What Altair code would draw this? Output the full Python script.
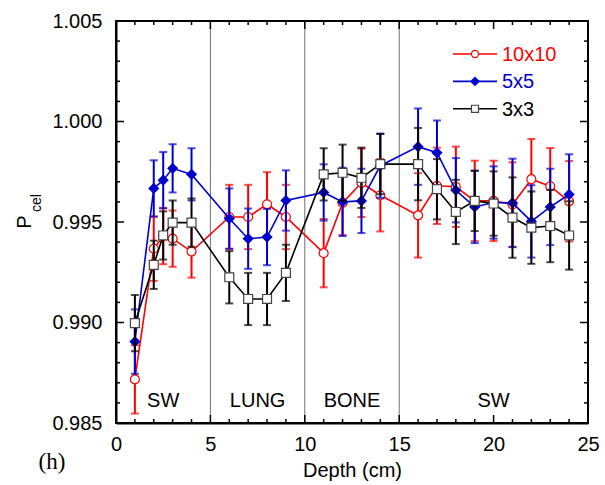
import altair as alt
import pandas as pd

# ---------------- data ----------------
depth = [1, 2, 2.5, 3, 4, 6, 7, 8, 9, 11, 12, 13, 14, 16, 17, 18, 19, 20, 21, 22, 23, 24]

p10 = [0.98717, 0.99367, 0.99430, 0.99417, 0.99353, 0.99525, 0.99525, 0.99588, 0.99525,
       0.99345, 0.99595, 0.99695, 0.99633, 0.99533, 0.99680, 0.99675, 0.99605, 0.99605,
       0.99587, 0.99713, 0.99678, 0.99603]
e10 = [0.0017, 0.0016, 0.0014, 0.0014, 0.0013, 0.0016, 0.0016, 0.0016, 0.0016,
       0.0017, 0.0016, 0.0017, 0.0018, 0.0021, 0.0019, 0.0020, 0.0020, 0.0020,
       0.0021, 0.0020, 0.0019, 0.0020]

p5 = [0.98905, 0.99667, 0.99708, 0.99767, 0.99737, 0.99517, 0.99417, 0.99425, 0.99607,
      0.99647, 0.99600, 0.99605, 0.99780, 0.99875, 0.99845, 0.99658, 0.99575, 0.99597,
      0.99595, 0.99503, 0.99575, 0.99637]
e5 = [0.0016, 0.0014, 0.0014, 0.0012, 0.0013, 0.0015, 0.0015, 0.0014, 0.0015,
      0.0014, 0.0017, 0.0016, 0.0016, 0.0019, 0.0016, 0.0016, 0.0018, 0.0018,
      0.0022, 0.0018, 0.0019, 0.0020]

p3 = [0.98997, 0.99287, 0.99433, 0.99497, 0.99497, 0.99225, 0.99117, 0.99117, 0.99247,
      0.99737, 0.99745, 0.99720, 0.99788, 0.99788, 0.99663, 0.99550, 0.99605, 0.99592,
      0.99522, 0.99472, 0.99480, 0.99433]
e3 = [0.0014, 0.0012, 0.0012, 0.0011, 0.0012, 0.0013, 0.0013, 0.0013, 0.0014,
      0.0013, 0.0014, 0.0015, 0.0015, 0.0018, 0.0015, 0.0016, 0.0015, 0.0016,
      0.0020, 0.0018, 0.0018, 0.0017]

series_names = ["10x10", "5x5", "3x3"]
series_vals = [p10, p5, p3]
series_errs = [e10, e5, e3]
series_colors = ["#ff0000", "#0000cd", "#000000"]
series_shapes = ["circle", "diamond", "square"]

boundaries = [5, 10, 15]
region_names = ["SW", "LUNG", "BONE", "SW"]
region_centers = [2.5, 7.5, 12.5, 20]

x_major = [0, 5, 10, 15, 20, 25]
x_minor = [1, 2, 3, 4, 6, 7, 8, 9, 11, 12, 13, 14, 16, 17, 18, 19, 21, 22, 23, 24]
y_major = [0.985, 0.990, 0.995, 1.000, 1.005]
y_minor = [0.986, 0.987, 0.988, 0.989, 0.991, 0.992, 0.993, 0.994,
           0.996, 0.997, 0.998, 0.999, 1.001, 1.002, 1.003, 1.004]

# ---------------- layout ----------------
W, H = 472, 402
FONT = "Liberation Sans"
MAJ, MIN = 8, 4

xs = alt.Scale(domain=[0, 25], nice=False, zero=False)
ys = alt.Scale(domain=[0.985, 1.005], nice=False, zero=False)

xa = alt.Axis(values=x_major, title="Depth (cm)", ticks=False, grid=False,
              labelPadding=11, labelFontSize=20, labelFont=FONT, labelColor="black",
              labelFlush=False, domainColor="black", domainWidth=2,
              titleFontSize=20, titleFont=FONT, titleFontWeight="normal",
              titleColor="black", titlePadding=6)
ya = alt.Axis(values=y_major, format=".3f", title="", ticks=False, grid=False,
              labelPadding=14, labelFontSize=20, labelFont=FONT, labelColor="black",
              labelFlush=False, domainColor="black", domainWidth=2)


def XQ(f):
    return alt.X(f, type="quantitative", scale=xs, axis=xa)


def YQ(f):
    return alt.Y(f, type="quantitative", scale=ys, axis=ya)


layers = []

# region separators
layers.append(
    alt.Chart(pd.DataFrame({"b": boundaries})).mark_rule(color="#707070", strokeWidth=1).encode(
        x=XQ("b"), y=alt.value(0), y2=alt.value(H))
)

# y ticks
for vals, x1, x2 in [(y_major, 0, MAJ), (y_major, W, W - MAJ), (y_minor, 0, MIN), (y_minor, W, W - MIN)]:
    layers.append(
        alt.Chart(pd.DataFrame({"t": vals})).mark_rule(color="black", strokeWidth=1.5).encode(
            y=YQ("t"), x=alt.value(x1), x2=alt.value(x2))
    )
# x ticks
for vals, y1, y2 in [(x_major, H, H - MAJ), (x_major, 0, MAJ), (x_minor, H, H - MIN), (x_minor, 0, MIN)]:
    layers.append(
        alt.Chart(pd.DataFrame({"t": vals})).mark_rule(color="black", strokeWidth=1.5).encode(
            x=XQ("t"), y=alt.value(y1), y2=alt.value(y2))
    )

# region labels
layers.append(
    alt.Chart(pd.DataFrame({"c": region_centers, "name": region_names})).mark_text(
        font=FONT, fontSize=20, color="black", baseline="alphabetic", align="center").encode(
        x=XQ("c"), y=alt.value(386), text="name:N")
)

# data series
for name, vals, errs, col, shp in zip(series_names, series_vals, series_errs, series_colors, series_shapes):
    df = pd.DataFrame({"d": depth, "v": vals, "e": errs})
    df["lo"] = df["v"] - df["e"]
    df["hi"] = df["v"] + df["e"]
    base = alt.Chart(df)
    layers.append(base.mark_rule(color=col, strokeWidth=2).encode(
        x=XQ("d"), y=YQ("lo"), y2="hi:Q"))
    for f in ["lo", "hi"]:
        layers.append(base.mark_tick(color=col, orient="horizontal", size=8, thickness=2).encode(
            x=XQ("d"), y=YQ(f)))
    layers.append(base.mark_line(color=col, strokeWidth=1.6).encode(
        x=XQ("d"), y=YQ("v")))
    if shp == "diamond":
        pt = base.mark_point(shape=shp, filled=True, fill=col, stroke=col, size=70, opacity=1)
    else:
        stroke = "#444444" if col == "#000000" else col
        pt = base.mark_point(shape=shp, filled=True, fill="white", stroke=stroke,
                             strokeWidth=1.2, size=80, opacity=1)
    layers.append(pt.encode(x=XQ("d"), y=YQ("v")))

# legend
for i, (name, col, shp) in enumerate(zip(series_names, series_colors, series_shapes)):
    yy = 33 + i * 27.4
    ld = alt.Chart(pd.DataFrame({"s": [name]}))
    layers.append(ld.mark_rule(color=col, strokeWidth=1.6).encode(
        x=alt.value(337), x2=alt.value(381), y=alt.value(yy)))
    if shp == "diamond":
        lp = ld.mark_point(shape=shp, filled=True, fill=col, stroke=col, size=50, opacity=1)
    else:
        stroke = "#444444" if col == "#000000" else col
        lp = ld.mark_point(shape=shp, filled=True, fill="white", stroke=stroke,
                           strokeWidth=1.2, size=50, opacity=1)
    layers.append(lp.encode(x=alt.value(359), y=alt.value(yy)))
    layers.append(ld.mark_text(font=FONT, fontSize=20, color=col, align="left",
                               baseline="middle").encode(
        x=alt.value(386), y=alt.value(yy + 1), text="s:N"))

# y title P_cel
tt = alt.Chart(pd.DataFrame({"t": ["P"], "u": ["cel"]}))
layers.append(tt.mark_text(font=FONT, fontSize=20, color="black", angle=270,
                           align="center", baseline="alphabetic").encode(
    x=alt.value(-85), y=alt.value(201), text="t:N"))
layers.append(tt.mark_text(font=FONT, fontSize=14, color="black", angle=270,
                           align="center", baseline="alphabetic").encode(
    x=alt.value(-75), y=alt.value(182), text="u:N"))

# panel label (h)
layers.append(alt.Chart(pd.DataFrame({"h": ["(h)"]})).mark_text(
    font="Liberation Serif", fontSize=23, color="black", align="center",
    baseline="alphabetic").encode(x=alt.value(-64), y=alt.value(448), text="h:N"))

chart = alt.layer(*layers).properties(
    width=W, height=H,
    autosize=alt.AutoSizeParams(type="none"),
    padding={"left": 116, "top": 21, "right": 17, "bottom": 62},
).configure_view(stroke="black", strokeWidth=2)

chart.save("out.html", embed_options={"renderer": "svg", "actions": False})
